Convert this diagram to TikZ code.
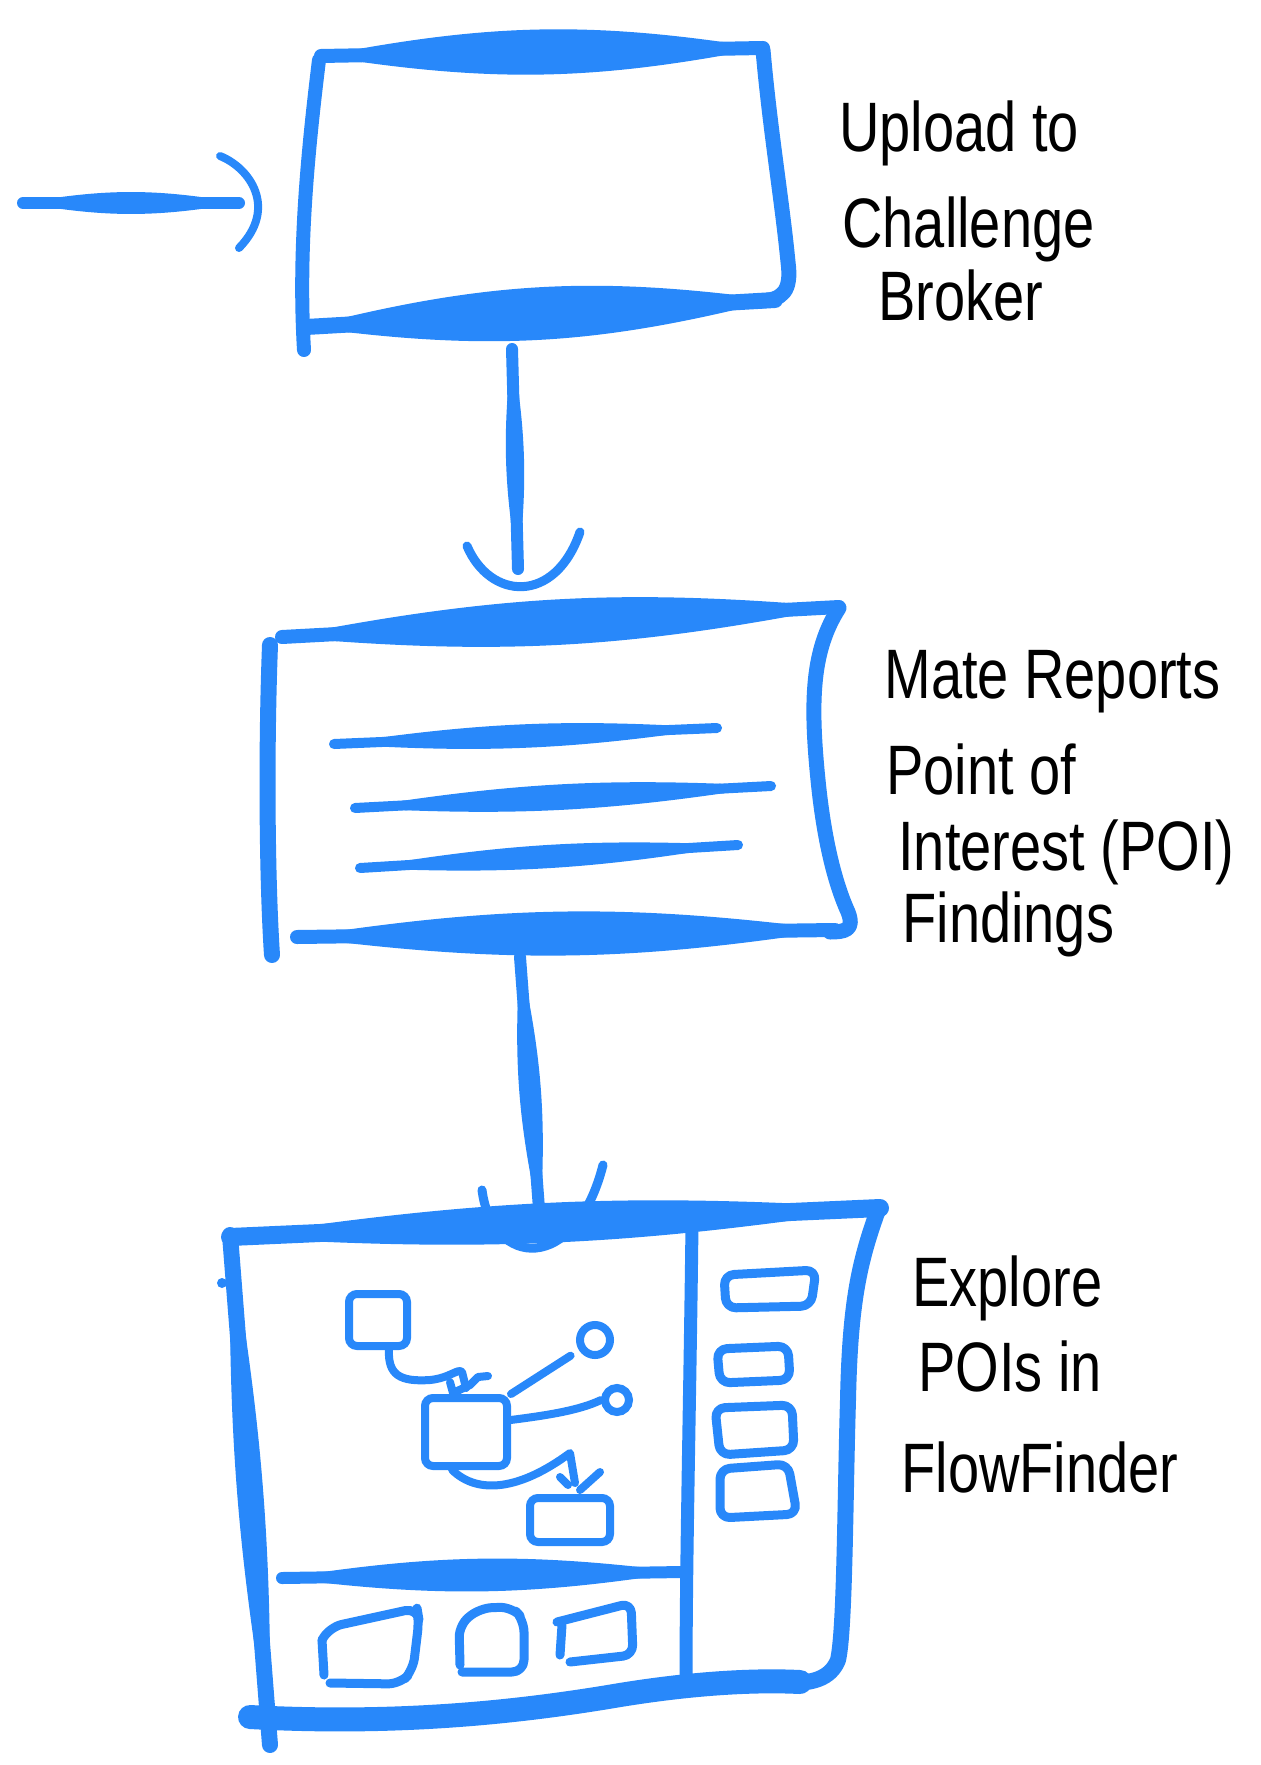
\documentclass[tikz,border=0pt]{standalone}
\usepackage{fontspec}
\newfontfamily\handfont[FakeStretch=0.8]{Liberation Sans}
\definecolor{ink}{RGB}{40,136,250}
\newcommand{\taper}[4]{%
  \fill[ink] #1 to[bend left=#3] #2 to[bend left=#3] #1;
  \draw[pen=#4] #1 -- #2;}
\begin{document}
\begin{tikzpicture}[x=0.5pt,y=-0.5pt,
  pen/.style={draw=ink, line width=#1, line cap=round, line join=round},
  pen/.default=4pt,
  txt/.style={font=\handfont\fontsize{35}{35}\selectfont, anchor=base west, inner sep=0pt, text=black},
  gbox/.style={draw=ink, line width=4pt, rounded corners=4pt, inner sep=0pt},
  gcirc/.style={draw=ink, line width=4pt, circle, inner sep=0pt}]
\useasboundingbox (0,0) rectangle (1261,1765);
\fill[white] (0,0) rectangle (1261,1765);

% ---------- box 1 ----------
\taper{(321,56)}{(763,48)}{10}{7pt}
\draw[pen=7.5pt] (763,50) .. controls (770,130) and (782,200) .. (788,262) .. controls (792,292) and (782,300) .. (760,301);
\taper{(306,327)}{(775,300)}{11}{8pt}
\draw[pen=7pt] (319,60) .. controls (308,150) and (298,250) .. (304,350);
\node[txt] (t1a) at (839,152) {Upload to};
\node[txt] (t1b) at (842,248) {Challenge};
\node[txt] (t1c) at (878,321) {Broker};

% incoming arrow
\coordinate (inS) at (23,203);
\coordinate (inE) at (239,203);
\taper{(inS)}{(inE)}{10}{6pt}
\draw[pen=4pt] (220,156) .. controls (250,168) and (278,208) .. (239,248);

% arrow 1 -> 2
\coordinate (a1s) at (512,349);
\coordinate (a1e) at (518,569);
\taper{(a1s)}{(a1e)}{8}{6pt}
\draw[pen=4.5pt] (467,546) .. controls (490,600) and (555,605) .. (580,532);

% ---------- box 2 ----------
\taper{(282,637)}{(839,607)}{8}{7pt}
\draw[pen=8pt] (270,645) .. controls (266,750) and (267,880) .. (272,955);
\draw[pen=7.5pt] (839,608) .. controls (812,650) and (810,700) .. (818,780) .. controls (825,850) and (838,890) .. (848,912) .. controls (855,930) and (845,932) .. (830,932);
\taper{(297,937)}{(835,930)}{8}{7pt}
\taper{(334,744)}{(717,728)}{6}{5pt}
\taper{(355,808)}{(771,786)}{6}{5pt}
\taper{(360,868)}{(738,845)}{6}{5pt}
\node[txt] (t2a) at (884,698) {Mate Reports};
\node[txt] (t2b) at (886,794) {Point of};
\node[txt] (t2c) at (898,870) {Interest (POI)};
\node[txt] (t2d) at (902,942) {Findings};

% arrow 2 -> 3
\coordinate (a2s) at (520,957);
\coordinate (a2e) at (540,1222);
\taper{(a2s)}{(a2e)}{8}{6pt}

% ---------- box 3 ----------
\taper{(230,1237)}{(880,1208)}{6}{9pt}
\taper{(230,1235)}{(270,1745)}{5}{8pt}
\draw[pen=8pt] (878,1210) .. controls (860,1260) and (850,1300) .. (848,1400) .. controls (845,1500) and (845,1630) .. (838,1660) .. controls (830,1680) and (810,1683) .. (790,1683);
\draw[pen=12pt] (250,1717) .. controls (400,1725) and (520,1712) .. (620,1695) .. controls (700,1682) and (760,1680) .. (800,1682);
\draw[pen=6.5pt] (692,1223) .. controls (690,1400) and (686,1550) .. (686,1688);
\taper{(282,1578)}{(682,1572)}{8}{6pt}
\fill[ink] (222,1283) circle[radius=5];
\draw[pen=4.5pt] (482,1190) .. controls (492,1268) and (575,1275) .. (603,1165);

% graph inside
\node[gbox, minimum width=29pt, minimum height=26pt] (A) at (378,1320) {};
\node[gbox, minimum width=41pt, minimum height=34pt] (B) at (466,1432) {};
\node[gbox, minimum width=40pt, minimum height=22pt] (C) at (570,1520) {};
\node[gcirc, minimum size=15pt] (D) at (595,1340) {};
\node[gcirc, minimum size=12pt] (E) at (617,1400) {};
\draw[pen] (A.-70) .. controls (388,1375) and (400,1382) .. (430,1380) .. controls (450,1378) and (458,1368) .. (462,1372) -- (466,1388);
\draw[pen] (450,1382) -- (453,1393) -- (470,1385) -- (478,1377) -- (488,1376);
\draw[pen, shorten >=5pt] (B.north east) -- (D);
\draw[pen] (B.15) .. controls (550,1415) and (580,1410) .. (E.west);
\draw[pen] (B.-110) .. controls (478,1495) and (520,1490) .. (570,1453) -- (575,1483);
\draw[pen] (560,1477) -- (568,1485);
\draw[pen] (600,1472) -- (580,1490);

% right panel boxes
\draw[pen=4.5pt, rounded corners=5pt] (724,1275) -- (816,1270) -- (811,1306) -- (726,1308) -- cycle;
\draw[pen=4.5pt, rounded corners=5pt] (717,1349) -- (788,1346) -- (790,1380) -- (720,1383) -- cycle;
\draw[pen=4.5pt, rounded corners=5pt] (715,1408) -- (792,1405) -- (794,1450) -- (720,1455) -- cycle;
\draw[pen=4.5pt, rounded corners=5pt] (720,1469) -- (788,1464) -- (797,1514) -- (720,1518) -- cycle;

% bottom panel boxes
\draw[pen=4.5pt, rounded corners=6pt] (322,1640) -- (330,1627) -- (417,1608) -- (419,1620) -- (413,1670) -- (400,1684) -- (330,1683);
\draw[pen=4.5pt] (322,1640) -- (324,1675);
\draw[pen=4.5pt, rounded corners=6pt] (462,1672) -- (524,1672) -- (524,1620) -- (512,1607) -- (480,1608) -- (459,1625) -- (460,1665);
\draw[pen=4.5pt, rounded corners=5pt] (557,1622) -- (631,1603) -- (633,1655) -- (570,1662);
\draw[pen=4.5pt] (562,1625) -- (560,1655);

\node[txt] (t3a) at (912,1306) {Explore};
\node[txt] (t3b) at (918,1391) {POIs in};
\node[txt] (t3c) at (901,1492) {FlowFinder};
\end{tikzpicture}
\end{document}
